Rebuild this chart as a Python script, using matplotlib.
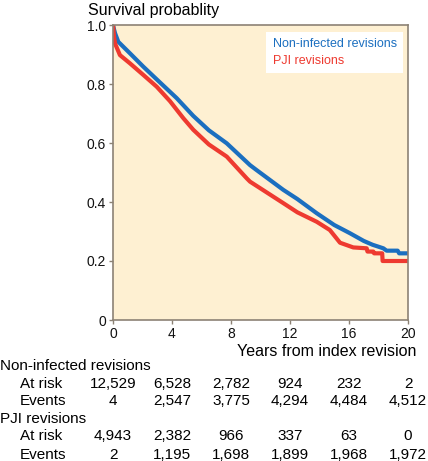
import matplotlib.pyplot as plt
from matplotlib import transforms

plt.rcParams['font.family'] = ['Liberation Sans', 'DejaVu Sans']

# Kaplan-Meier curves (years, survival)
t_noninf = [0, 0.07, 0.14, 0.36, 1.15, 2.05, 3.19, 4.32, 5.44, 6.5, 7.71, 9.29, 9.74,
            11.55, 12.5, 13.81, 15.0, 16.07, 17.0, 17.6, 18.33, 18.55, 19.3, 19.4, 20.0]
s_noninf = [1.0, 0.985, 0.972, 0.943, 0.904, 0.859, 0.805, 0.752, 0.692, 0.643, 0.599, 0.525, 0.508,
            0.441, 0.41, 0.362, 0.322, 0.294, 0.268, 0.255, 0.243, 0.235, 0.235, 0.226, 0.226]

t_pji = [0, 0.07, 0.14, 0.47, 1.15, 2.05, 2.96, 3.86, 4.77, 5.44, 6.5, 7.71, 9.07, 9.29,
         11.55, 12.5, 13.81, 14.7, 15.39, 16.29, 17.2, 17.25, 17.65, 17.7, 18.25, 18.28, 19.86]
s_pji = [1.0, 0.96, 0.937, 0.898, 0.870, 0.831, 0.791, 0.742, 0.684, 0.645, 0.595, 0.554, 0.48, 0.469,
         0.396, 0.365, 0.333, 0.305, 0.262, 0.246, 0.243, 0.232, 0.232, 0.226, 0.226, 0.2, 0.2]

# numbers at risk table
table_years = [0, 4, 8, 12, 16, 20]
noninf_at_risk = ["12,529", "6,528", "2,782", "924", "232", "2"]
noninf_events = ["4", "2,547", "3,775", "4,294", "4,484", "4,512"]
pji_at_risk = ["4,943", "2,382", "966", "337", "63", "0"]
pji_events = ["2", "1,195", "1,698", "1,899", "1,968", "1,972"]

blue = "#1b6fc0"
red = "#ee3a30"
W, H = 428, 461

fig = plt.figure(figsize=(W / 100, H / 100), dpi=100)
ax = fig.add_axes([113 / W, 1 - 320 / H, 295 / W, 295 / H])
ax.set_facecolor("#fef0d2")

ax.plot(t_noninf, s_noninf, color=blue, lw=3, label="Non-infected revisions")
ax.plot(t_pji, s_pji, color=red, lw=3, label="PJI revisions")

ax.set_xlim(0, 20)
ax.set_ylim(0, 1)
ax.set_xticks(table_years)
ax.set_xticklabels([str(y) for y in table_years])
ax.set_yticks([0, 0.2, 0.4, 0.6, 0.8, 1.0])
ax.set_yticklabels(["0", "0.2", "0.4", "0.6", "0.8", "1.0"])
for sp in ax.spines.values():
    sp.set_color("#8c8275")
    sp.set_linewidth(1.2)
ax.tick_params(colors="#8c8275", labelcolor="#111111", labelsize=10, length=3, width=1, pad=2)

leg = ax.legend(loc="upper right", handlelength=0, handletextpad=0, labelcolor="linecolor",
                fontsize=9, frameon=True, fancybox=False, borderaxespad=0,
                bbox_to_anchor=(0.983, 0.976), borderpad=0.5, labelspacing=0.35)
leg.get_frame().set_facecolor("white")
leg.get_frame().set_edgecolor("none")
leg.get_frame().set_alpha(1)
for h in leg.legend_handles:
    h.set_visible(False)

fig.text(88 / W, 1 - 10 / H, "Survival probablity", fontsize=11.5, va="center", ha="left")
fig.text(416 / W, 1 - 352 / H, "Years from index revision", fontsize=11.5, va="center", ha="right")

trans = transforms.blended_transform_factory(ax.transData, fig.transFigure)
rows = [
    ("Non-infected revisions", 366, 0, None),
    ("At risk", 384, 20, noninf_at_risk),
    ("Events", 401, 20, noninf_events),
    ("PJI revisions", 419, 0, None),
    ("At risk", 436, 20, pji_at_risk),
    ("Events", 455, 20, pji_events),
]
for label, ypx, xpx, vals in rows:
    fig.text(xpx / W, 1 - ypx / H, label, fontsize=11, va="center", ha="left")
    if vals:
        for yr, v in zip(table_years, vals):
            ax.text(yr, 1 - ypx / H, v, transform=trans, fontsize=11, va="center", ha="center",
                    clip_on=False)

fig.savefig("out.png", dpi=100)
